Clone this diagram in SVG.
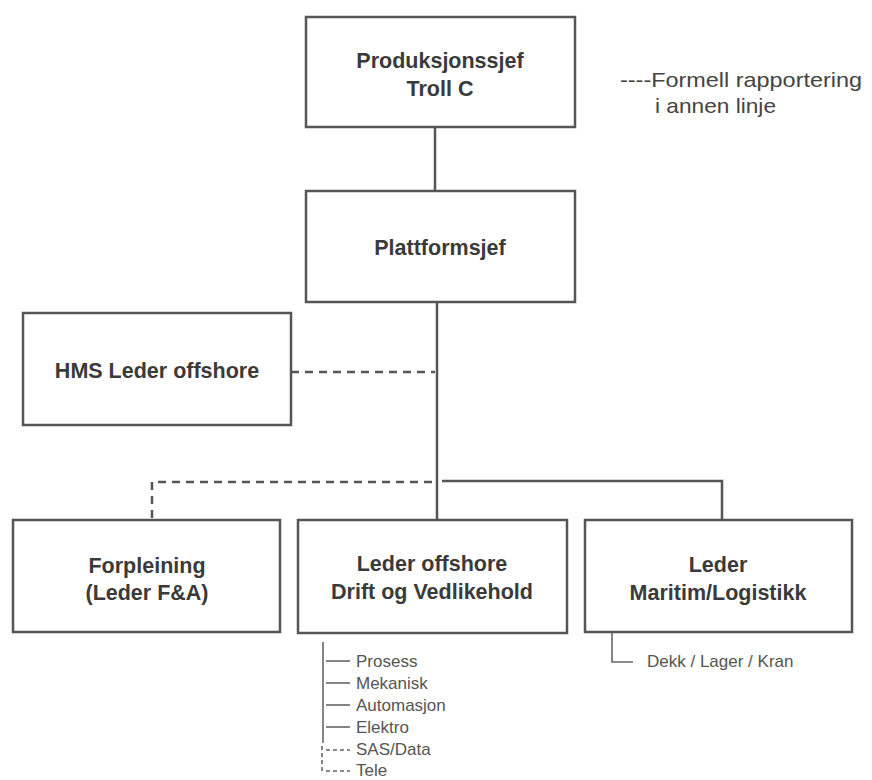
<svg xmlns="http://www.w3.org/2000/svg" width="872" height="780" viewBox="0 0 872 780">
<style>
.box{fill:#fff;stroke:#555;stroke-width:2.5}
.t{font-family:"Liberation Sans",Arial,sans-serif;font-weight:bold;font-size:21.5px;fill:#3a3a3a;text-anchor:middle}
.s{font-family:"Liberation Sans",Arial,sans-serif;font-size:17px;fill:#555}
.l{font-family:"Liberation Sans",Arial,sans-serif;font-size:21px;fill:#444}
.c{fill:none;stroke:#555;stroke-width:2.5}
.d{fill:none;stroke:#555;stroke-width:2.5;stroke-dasharray:8 6}
.sc{fill:none;stroke:#666;stroke-width:1.6}
.sd{fill:none;stroke:#666;stroke-width:1.6;stroke-dasharray:4 3}
</style>
<rect width="872" height="780" fill="#fff"/>
<g id="connectors">
<line class="c" x1="435" y1="128" x2="435" y2="191"/>
<line class="c" x1="437" y1="302" x2="437" y2="520"/>
<line class="d" x1="291" y1="372" x2="435" y2="372"/>
<polyline class="c" points="442,481 722,481 722,520"/>
<polyline class="d" points="432,482 152,482 152,520"/>
<polyline class="sc" points="612,632 612,662 633,662"/>
<line class="sc" x1="323" y1="642" x2="323" y2="743"/>
<line class="sc" x1="326" y1="661" x2="350" y2="661"/>
<line class="sc" x1="326" y1="683" x2="350" y2="683"/>
<line class="sc" x1="326" y1="705" x2="350" y2="705"/>
<line class="sc" x1="326" y1="727" x2="350" y2="727"/>
<line class="sd" x1="322" y1="746" x2="322" y2="771"/>
<line class="sd" x1="326" y1="750" x2="350" y2="750"/>
<line class="sd" x1="326" y1="771" x2="350" y2="771"/>
</g>
<g id="n-produksjonssjef">
<rect class="box" x="306" y="17" width="269" height="110"/>
<text class="t" x="440" y="68">Produksjonssjef</text>
<text class="t" x="440" y="96">Troll C</text>
</g>
<g id="n-plattformsjef">
<rect class="box" x="306" y="191" width="269" height="111"/>
<text class="t" x="440" y="255">Plattformsjef</text>
</g>
<g id="n-hms">
<rect class="box" x="23" y="313" width="268" height="112"/>
<text class="t" x="157" y="378">HMS Leder offshore</text>
</g>
<g id="n-forpleining">
<rect class="box" x="13" y="520" width="267" height="112"/>
<text class="t" x="147" y="573">Forpleining</text>
<text class="t" x="147" y="600">(Leder F&amp;A)</text>
</g>
<g id="n-drift">
<rect class="box" x="298" y="520" width="269" height="113"/>
<text class="t" x="432" y="571">Leder offshore</text>
<text class="t" x="432" y="599">Drift og Vedlikehold</text>
</g>
<g id="n-maritim">
<rect class="box" x="585" y="520" width="267" height="112"/>
<text class="t" x="718" y="572">Leder</text>
<text class="t" x="718" y="600">Maritim/Logistikk</text>
</g>
<g id="sublists">
<text class="s" x="647" y="667">Dekk / Lager / Kran</text>
<text class="s" x="356" y="667">Prosess</text>
<text class="s" x="356" y="689">Mekanisk</text>
<text class="s" x="356" y="711">Automasjon</text>
<text class="s" x="356" y="733">Elektro</text>
<text class="s" x="356" y="755">SAS/Data</text>
<text class="s" x="356" y="776">Tele</text>
</g>
<g id="legend">
<text class="l" x="620" y="87" textLength="242" lengthAdjust="spacingAndGlyphs">----Formell rapportering</text>
<text class="l" x="655" y="113" textLength="121" lengthAdjust="spacingAndGlyphs">i annen linje</text>
</g>
</svg>
